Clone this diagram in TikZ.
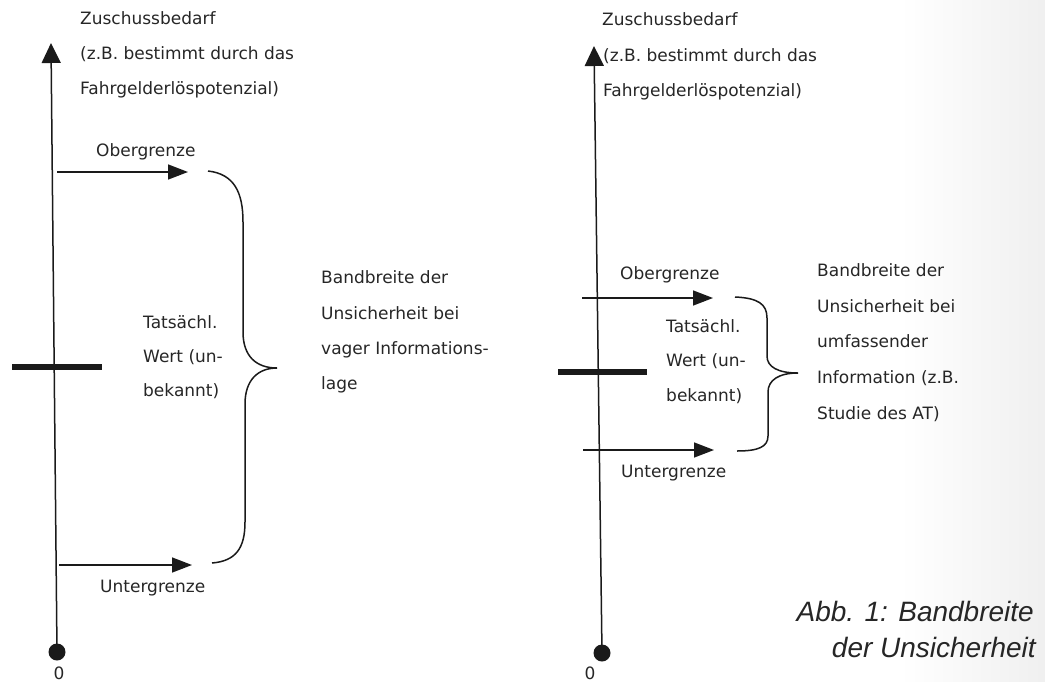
\documentclass[tikz,border=0pt]{standalone}
\usepackage{fontspec}
\setmainfont{DejaVu Sans}
\newfontfamily\capfont{Liberation Sans}
\usetikzlibrary{arrows.meta}
\definecolor{ink}{HTML}{1A1A1A}
\definecolor{txtgray}{HTML}{262626}
\begin{document}
\begin{tikzpicture}[x=1pt,y=-1pt,
  lbl/.style={anchor=base west, inner sep=0pt, text=txtgray,
    font=\fontsize{17}{20}\selectfont},
  axisline/.style={draw=ink, line width=1.5pt, -{Triangle[length=20pt,width=19pt]}},
  limit/.style={draw=ink, line width=1.5pt, -{Triangle[length=20pt,width=15pt]}},
  bracepath/.style={draw=ink, line width=1.5pt},
  truebar/.style={draw=ink, line width=6.5pt},
  origin/.style={circle, fill=ink, minimum size=17pt, inner sep=0pt},
  caption/.style={anchor=base east, inner sep=0pt, text=txtgray,
    font=\capfont\itshape\fontsize{28}{28}\selectfont}
]
\useasboundingbox (0,0) rectangle (1045,681);
% faint tint along the right edge of the page
\shade[left color=white, right color=black!6] (900,0) rectangle (1045,681);

% ---------------- left panel: vague information ----------------
\node[origin] (oL) at (57,652) {};
\coordinate (topL) at (51,43);
\draw[axisline] (oL.center) -- (topL);
\node[lbl, anchor=base] (zeroL) at (59,679) {0};

\node[lbl] (zL1) at (80,24) {Zuschussbedarf};
\node[lbl] (zL2) at (80,59) {(z.B. bestimmt durch das};
\node[lbl] (zL3) at (80,94) {Fahrgelderlöspotenzial)};

\coordinate (obL0) at (57,172);
\coordinate (obL1) at (188,172);
\draw[limit] (obL0) -- (obL1);
\node[lbl] (obLt) at (96,156) {Obergrenze};

\coordinate (ugL0) at (59,565);
\coordinate (ugL1) at (192,565);
\draw[limit] (ugL0) -- (ugL1);
\node[lbl] (ugLt) at (100,592) {Untergrenze};

\coordinate (barL0) at (12,367);
\coordinate (barL1) at (102,367);
\draw[truebar] (barL0) -- (barL1);

\node[lbl] (twL1) at (143,328) {Tatsächl.};
\node[lbl] (twL2) at (143,362) {Wert (un-};
\node[lbl] (twL3) at (143,396) {bekannt)};

\coordinate (brL0) at (208,171);
\coordinate (brLtip) at (277,368);
\coordinate (brL1) at (212,563);
\draw[bracepath] (brL0) .. controls (234,174) and (243,192) .. (243,222)
  -- (243,332) .. controls (243,356) and (256,368) .. (brLtip)
  .. controls (258,368) and (245,380) .. (245,404)
  -- (245,522) .. controls (245,548) and (236,561) .. (brL1);

\node[lbl] (bbL1) at (321,283) {Bandbreite der};
\node[lbl] (bbL2) at (321,319) {Unsicherheit bei};
\node[lbl] (bbL3) at (321,354) {vager Informations-};
\node[lbl] (bbL4) at (321,389) {lage};

% ---------------- right panel: comprehensive information ----------------
\node[origin] (oR) at (602,653) {};
\coordinate (topR) at (594,46);
\draw[axisline] (oR.center) -- (topR);
\node[lbl, anchor=base] (zeroR) at (590,679) {0};

\node[lbl] (zR1) at (602,25) {Zuschussbedarf};
\node[lbl] (zR2) at (603,61) {(z.B. bestimmt durch das};
\node[lbl] (zR3) at (603,96) {Fahrgelderlöspotenzial)};

\coordinate (obR0) at (582,298);
\coordinate (obR1) at (713,298);
\draw[limit] (obR0) -- (obR1);
\node[lbl] (obRt) at (620,279) {Obergrenze};

\coordinate (ugR0) at (583,450);
\coordinate (ugR1) at (714,450);
\draw[limit] (ugR0) -- (ugR1);
\node[lbl] (ugRt) at (621,477) {Untergrenze};

\coordinate (barR0) at (558,372);
\coordinate (barR1) at (647,372);
\draw[truebar] (barR0) -- (barR1);

\node[lbl] (twR1) at (666,332) {Tatsächl.};
\node[lbl] (twR2) at (666,366) {Wert (un-};
\node[lbl] (twR3) at (666,401) {bekannt)};

\coordinate (brR0) at (735,297);
\coordinate (brRtip) at (798,373);
\coordinate (brR1) at (737,451);
\draw[bracepath] (brR0) .. controls (758,298) and (767,304) .. (767,318)
  -- (767,356) .. controls (767,367) and (778,373) .. (brRtip)
  .. controls (779,373) and (768,380) .. (768,392)
  -- (768,436) .. controls (768,447) and (758,451) .. (brR1);

\node[lbl] (bbR1) at (817,276) {Bandbreite der};
\node[lbl] (bbR2) at (817,312) {Unsicherheit bei};
\node[lbl] (bbR3) at (817,347) {umfassender};
\node[lbl] (bbR4) at (817,383) {Information (z.B.};
\node[lbl] (bbR5) at (817,419) {Studie des AT)};

% ---------------- figure caption ----------------
\node[caption] (cap1) at (1034,621) {Abb. 1: Bandbreite};
\node[caption] (cap2) at (1036,657) {der Unsicherheit};
\end{tikzpicture}
\end{document}
